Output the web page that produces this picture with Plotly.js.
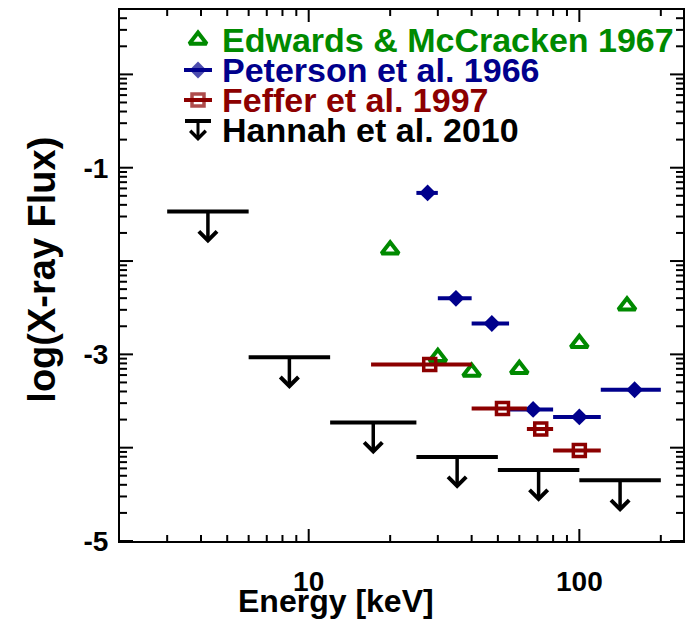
<!DOCTYPE html>
<html><head><meta charset="utf-8">
<script src="https://cdn.plot.ly/plotly-3.0.1.min.js"></script>
<style>html,body{margin:0;padding:0;background:#fff}#chart{width:691px;height:619px}</style>
</head><body><div id="chart"></div>
<script>
// ---------------- data ----------------
const edwardsEnergy  = [20, 30, 40, 60, 100, 150];
const edwardsLogFlux = [-1.88, -3.03, -3.19, -3.16, -2.88, -2.48];

const petersonEnergy  = [27.5, 35, 47.5, 67.5, 100, 160];
const petersonELow    = [25, 30, 40, 55, 80, 120];
const petersonEHigh   = [30, 40, 55, 80, 120, 200];
const petersonLogFlux = [-1.27, -2.40, -2.67, -3.59, -3.67, -3.38];

const fefferEnergy  = [28, 52, 72, 100];
const fefferELow    = [17, 40, 64, 80];
const fefferEHigh   = [40, 64, 80, 120];
const fefferLogFlux = [-3.11, -3.58, -3.80, -4.03];

const hannahELow     = [3, 6, 12, 25, 50, 100];
const hannahEHigh    = [6, 12, 25, 50, 100, 200];
const hannahLogLimit = [-1.47, -3.03, -3.73, -4.10, -4.24, -4.35];

const seriesNames = ['Edwards &amp; McCracken 1967', 'Peterson et al. 1966', 'Feffer et al. 1997', 'Hannah et al. 2010'];
const xTickVals = [10, 100];
const xTickText = ['10', '100'];
const xMinorVals = [3, 4, 5, 6, 7, 8, 9, 20, 30, 40, 50, 60, 70, 80, 90, 200];
const yTickExps = [-5, -4, -3, -2, -1, 0];
const yTickText = ['-5', '', '-3', '', '-1', ''];
const xTitle = 'Energy [keV]';
const yTitle = 'log(X-ray Flux)';

// ---------------- style ----------------
const FONT = 'Liberation Sans, Arial, Helvetica, sans-serif';
const GREEN = '#008A00', BLUE = '#00008C', RED = '#8C0000', BLACK = '#000000';
const ARROW_DEX = 0.34;      // length of upper-limit arrows (in dex)
const pow10 = v => Math.pow(10, v);
const TRI = {symbol: 'triangle-up-open', size: 15, color: GREEN, line: {width: 4, color: GREEN}};
const DIA = {symbol: 'diamond', size: 13, color: BLUE, line: {width: 0}};
const SQR = {symbol: 'square-open', size: 12, color: RED, line: {width: 3.5, color: RED}};

const W = 691, H = 619;
const MARGIN = {l: 120, r: 8, t: 10, b: 78, pad: 0};
const PW = W - MARGIN.l - MARGIN.r, PH = H - MARGIN.t - MARGIN.b;
const X_RANGE = [0.3028, 2.383], Y_RANGE = [-5, 0.69];

const traces = [];
const annotations = [];

traces.push({type: 'scatter', mode: 'markers', name: seriesNames[0], showlegend: false,
  x: edwardsEnergy, y: edwardsLogFlux.map(pow10), marker: TRI});

traces.push({type: 'scatter', mode: 'markers', name: seriesNames[1], showlegend: false,
  x: petersonEnergy, y: petersonLogFlux.map(pow10),
  error_x: {type: 'data', symmetric: false,
    array: petersonEHigh.map((h, i) => h - petersonEnergy[i]),
    arrayminus: petersonELow.map((l, i) => petersonEnergy[i] - l),
    width: 0, thickness: 4, color: BLUE},
  marker: DIA});

traces.push({type: 'scatter', mode: 'markers', name: seriesNames[2], showlegend: false,
  x: fefferEnergy, y: fefferLogFlux.map(pow10),
  error_x: {type: 'data', symmetric: false,
    array: fefferEHigh.map((h, i) => h - fefferEnergy[i]),
    arrayminus: fefferELow.map((l, i) => fefferEnergy[i] - l),
    width: 0, thickness: 4, color: RED},
  marker: SQR});

const hannahCenter = hannahELow.map((l, i) => Math.sqrt(l * hannahEHigh[i]));
traces.push({type: 'scatter', mode: 'markers', name: seriesNames[3], showlegend: false,
  x: hannahCenter, y: hannahLogLimit.map(pow10),
  error_x: {type: 'data', symmetric: false,
    array: hannahEHigh.map((h, i) => h - hannahCenter[i]),
    arrayminus: hannahELow.map((l, i) => hannahCenter[i] - l),
    width: 0, thickness: 4, color: BLACK},
  marker: {size: 2, color: 'rgba(0,0,0,0)'}});
hannahCenter.forEach((c, i) => annotations.push({
  xref: 'x', yref: 'y', axref: 'x', ayref: 'y',
  x: Math.log10(c), y: hannahLogLimit[i] - ARROW_DEX,
  ax: Math.log10(c), ay: hannahLogLimit[i],
  text: '', showarrow: true, arrowhead: 4, arrowsize: 1, arrowwidth: 3.5,
  arrowcolor: BLACK, standoff: 0, startstandoff: 0}));

// ---------------- tick marks (inside, all four sides) as one line trace ----------------
const yMinorVals = [];
for (let d = -5; d <= 0; d++) for (let k = 2; k <= 9; k++) {
  const v = k * Math.pow(10, d);
  if (Math.log10(v) < Y_RANGE[1]) yMinorVals.push(v);
}
const TICK = {w: 2, xMajor: 12, xMinor: 6, yMajor: 13, yMinor: 7};
const pxPerDexX = PW / (X_RANGE[1] - X_RANGE[0]);
const pxPerDexY = PH / (Y_RANGE[1] - Y_RANGE[0]);
const tx = [], ty = [];
function xTick(v, len) {
  const d = len / pxPerDexY;
  tx.push(v, v, null, v, v, null);
  ty.push(pow10(Y_RANGE[0]), pow10(Y_RANGE[0] + d), null, pow10(Y_RANGE[1]), pow10(Y_RANGE[1] - d), null);
}
function yTick(v, len) {
  const d = len / pxPerDexX;
  tx.push(pow10(X_RANGE[0]), pow10(X_RANGE[0] + d), null, pow10(X_RANGE[1]), pow10(X_RANGE[1] - d), null);
  ty.push(v, v, null, v, v, null);
}
xTickVals.forEach(v => xTick(v, TICK.xMajor));
xMinorVals.forEach(v => xTick(v, TICK.xMinor));
yTickExps.forEach(e => yTick(pow10(e), TICK.yMajor));
yMinorVals.forEach(v => yTick(v, TICK.yMinor));
traces.push({type: 'scatter', mode: 'lines', x: tx, y: ty, connectgaps: false, showlegend: false,
  hoverinfo: 'skip', cliponaxis: false, line: {color: BLACK, width: TICK.w}});

// ---------------- manual legend (overlay axes in page pixels) ----------------
const LEG = {symX: 198, textX: 220, half: 14, rows: [40, 70, 100, 130], size: 34};
const legColors = [GREEN, BLUE, RED, BLACK];
traces.push({type: 'scatter', mode: 'markers', xaxis: 'x2', yaxis: 'y2', showlegend: false, hoverinfo: 'skip',
  x: [LEG.symX], y: [LEG.rows[0]], marker: TRI});
traces.push({type: 'scatter', mode: 'lines+markers', xaxis: 'x2', yaxis: 'y2', showlegend: false, hoverinfo: 'skip',
  x: [LEG.symX - LEG.half, LEG.symX, LEG.symX + LEG.half], y: [LEG.rows[1], LEG.rows[1], LEG.rows[1]],
  line: {color: BLUE, width: 4}, marker: Object.assign({}, DIA, {size: [0, 13, 0]})});
traces.push({type: 'scatter', mode: 'lines+markers', xaxis: 'x2', yaxis: 'y2', showlegend: false, hoverinfo: 'skip',
  x: [LEG.symX - LEG.half, LEG.symX, LEG.symX + LEG.half], y: [LEG.rows[2], LEG.rows[2], LEG.rows[2]],
  line: {color: RED, width: 4}, marker: Object.assign({}, SQR, {size: [0, 12, 0]})});
traces.push({type: 'scatter', mode: 'lines', xaxis: 'x2', yaxis: 'y2', showlegend: false, hoverinfo: 'skip',
  x: [LEG.symX - 13, LEG.symX + 13], y: [LEG.rows[3] - 9, LEG.rows[3] - 9],
  line: {color: BLACK, width: 4}});
annotations.push({xref: 'x2', yref: 'y2', axref: 'x2', ayref: 'y2',
  x: LEG.symX, y: LEG.rows[3] + 11, ax: LEG.symX, ay: LEG.rows[3] - 9,
  text: '', showarrow: true, arrowhead: 4, arrowsize: 1, arrowwidth: 3, arrowcolor: BLACK, standoff: 0, startstandoff: 0});
seriesNames.forEach((n, i) => annotations.push({
  xref: 'x2', yref: 'y2', x: LEG.textX, y: LEG.rows[i], xanchor: 'left', yanchor: 'middle',
  text: n, showarrow: false,
  font: {family: FONT, size: LEG.size, color: legColors[i], weight: 700}}));

// ---------------- axis titles ----------------
annotations.push({xref: 'paper', yref: 'paper', x: 0.3837, y: -0.113, xanchor: 'center', yanchor: 'middle',
  text: xTitle, showarrow: false, font: {family: FONT, size: 32, color: BLACK, weight: 700}});
annotations.push({xref: 'paper', yref: 'paper', x: -0.139, y: 0.5105, xanchor: 'center', yanchor: 'middle',
  text: yTitle, showarrow: false, textangle: -90, font: {family: FONT, size: 38, color: BLACK, weight: 700}});

// ---------------- axes ----------------
const axisCommon = {showline: true, linewidth: 2, linecolor: BLACK, mirror: true,
  ticks: '', showgrid: false, zeroline: false};

const layout = {
  width: W, height: H, margin: MARGIN,
  paper_bgcolor: '#fff', plot_bgcolor: '#fff',
  showlegend: false,
  xaxis: Object.assign({}, axisCommon, {type: 'log', range: X_RANGE,
    tickmode: 'array', tickvals: xTickVals, ticktext: xTickText,
    ticklabelstandoff: 14,
    tickfont: {family: FONT, size: 28, color: BLACK, weight: 700}}),
  yaxis: Object.assign({}, axisCommon, {type: 'log', range: Y_RANGE,
    tickmode: 'array', tickvals: yTickExps.map(pow10), ticktext: yTickText,
    ticklabelstandoff: 4,
    tickfont: {family: FONT, size: 28, color: BLACK, weight: 700}}),
  xaxis2: {overlaying: 'x', anchor: 'y2', range: [MARGIN.l, W - MARGIN.r], visible: false},
  yaxis2: {overlaying: 'y', anchor: 'x2', range: [H - MARGIN.b, MARGIN.t], visible: false},
  annotations: annotations
};

Plotly.newPlot('chart', traces, layout, {displayModeBar: false});
</script>
</body></html>
